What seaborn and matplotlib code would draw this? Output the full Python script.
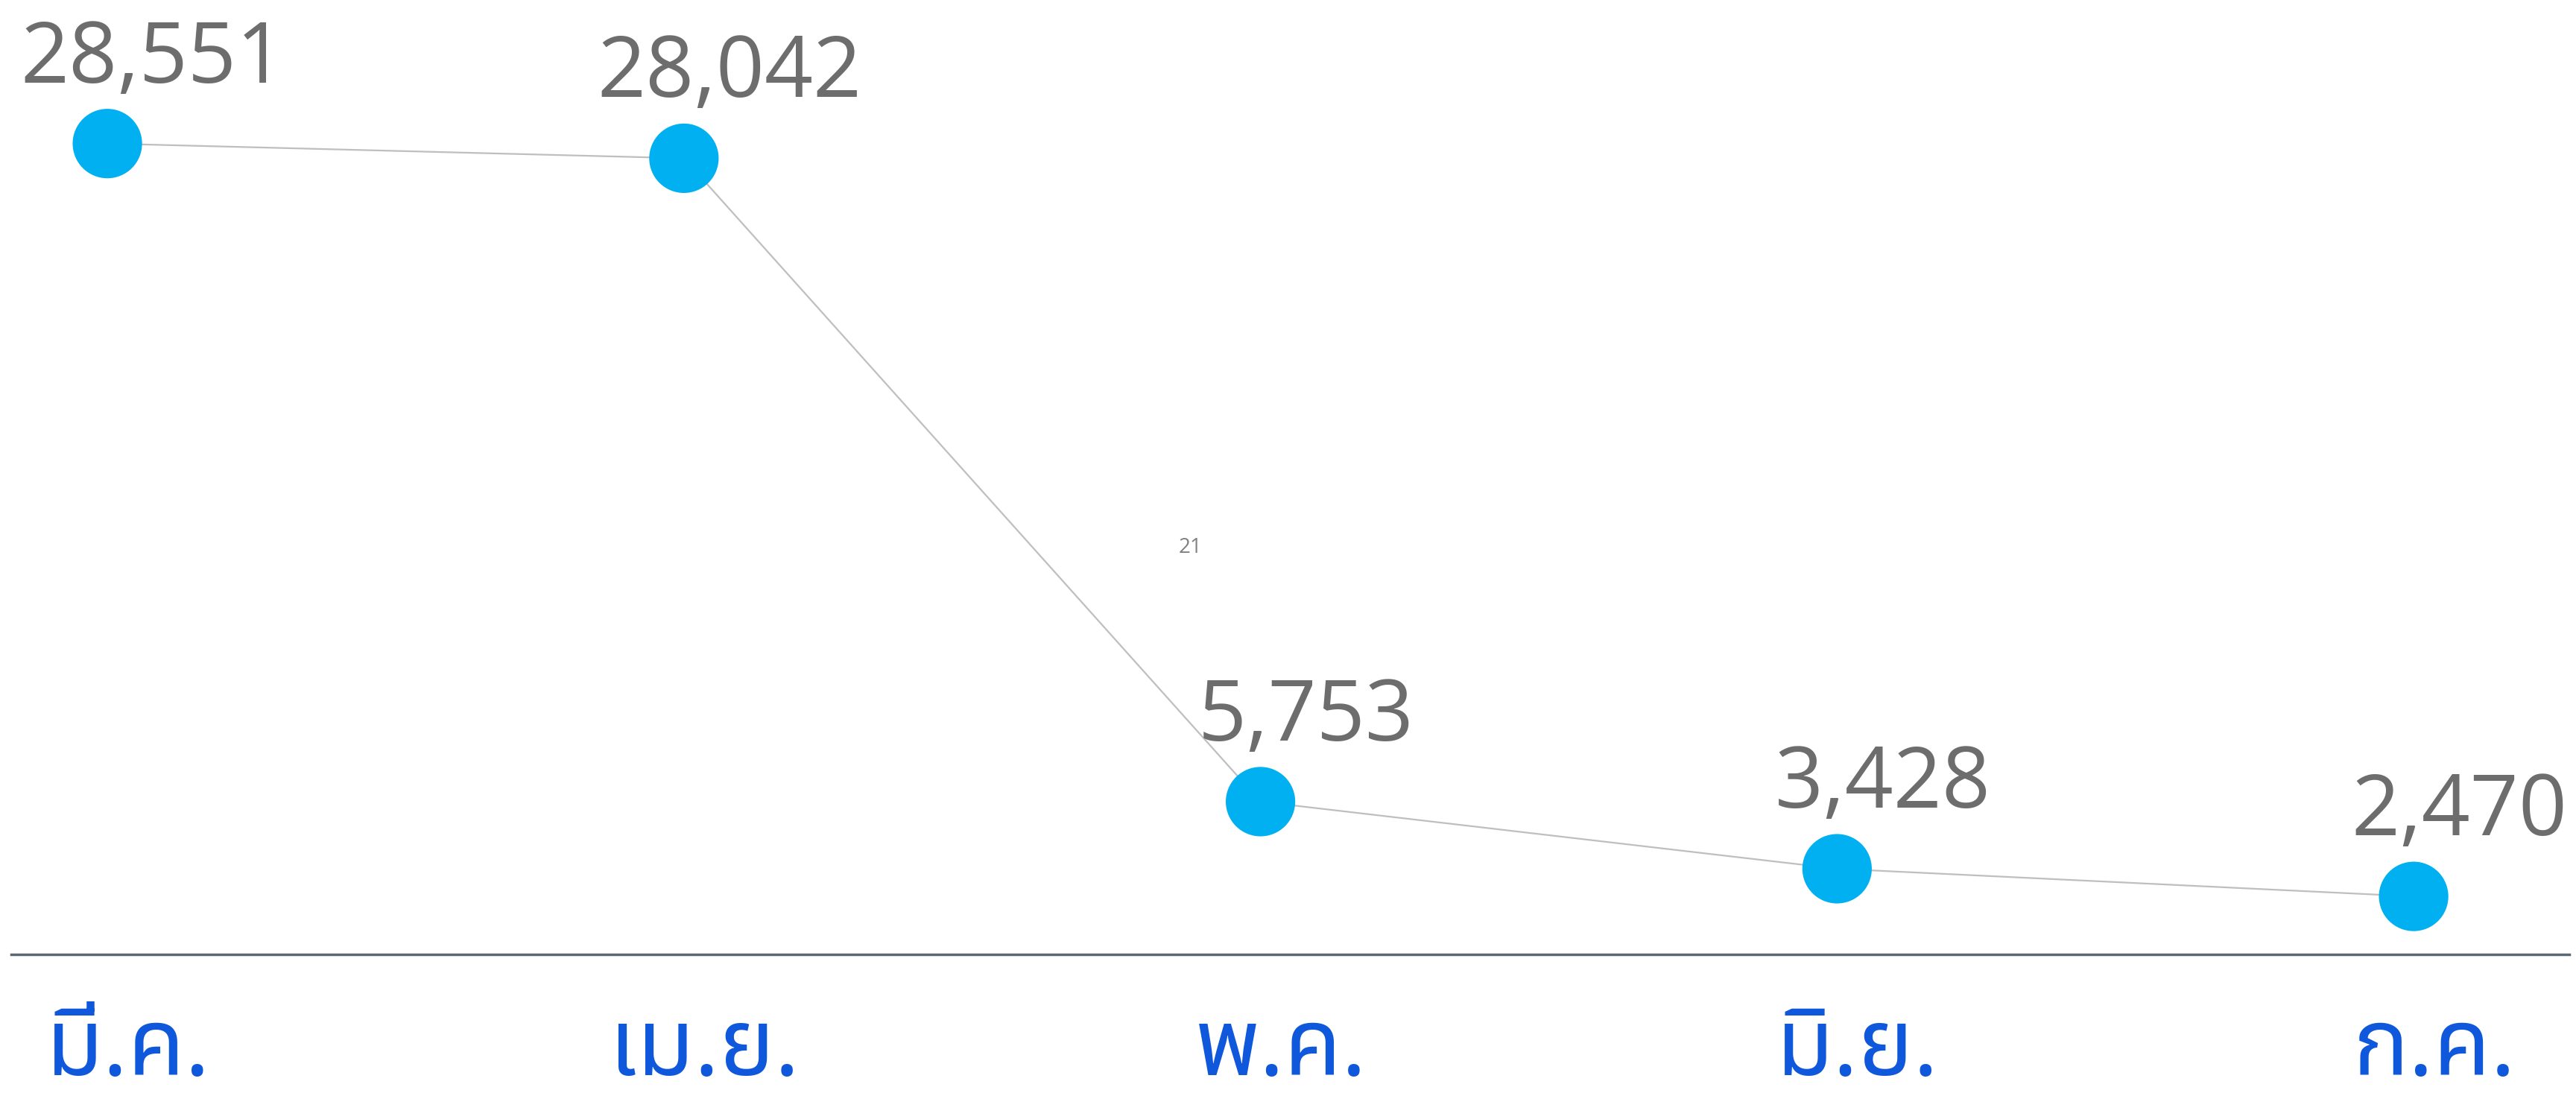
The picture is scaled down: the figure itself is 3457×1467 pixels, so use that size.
import matplotlib
matplotlib.use("Agg")
import matplotlib.pyplot as plt
import matplotlib.transforms as mtransforms
import seaborn as sns
import pandas as pd

# values
months = ["มี.ค.", "เม.ย.", "พ.ค.", "มิ.ย.", "ก.ค."]
cases = [28551, 28042, 5753, 3428, 2470]
page_note = "21"

sns.set_theme(style="white")
plt.rcParams["font.family"] = ["Noto Sans Thai", "Tahoma", "Open Sans", "DejaVu Sans"]

df = pd.DataFrame({"pos": range(len(months)), "month": months, "cases": cases})

fig = plt.figure(figsize=(34.57, 14.67), dpi=100)
ax = fig.add_axes([0.0043, 0.1268, 0.9931, 0.7825])

sns.lineplot(data=df, x="pos", y="cases", color="#BFBFBF", linewidth=1.6, ax=ax, zorder=2)
sns.scatterplot(data=df, x="pos", y="cases", color="#00B0F0", s=4500, edgecolor="none",
                ax=ax, zorder=3, legend=False)

for _, row in df.iterrows():
    ax.annotate(f"{row['cases']:,}", (row["pos"], row["cases"]), xytext=(44, 59),
                textcoords="offset points", ha="center", va="baseline",
                fontsize=82, color="#6D6D6D", family=["Open Sans", "DejaVu Sans"])

ax.set_xlim(-0.167, 4.27)
ax.set_ylim(460, 30090)
ax.set_xticks(df["pos"], df["month"])
ax.tick_params(axis="x", length=0, pad=48, labelsize=90, labelcolor="#0F57DB")
shift = mtransforms.ScaledTranslation(0.28, 0, fig.dpi_scale_trans)
for lbl in ax.get_xticklabels():
    lbl.set_transform(lbl.get_transform() + shift)
    lbl.set_fontweight("bold")
ax.set_yticks([])
ax.set_xlabel("")
ax.set_ylabel("")

for side in ["top", "left", "right"]:
    ax.spines[side].set_visible(False)
ax.spines["bottom"].set_color("#5A6872")
ax.spines["bottom"].set_linewidth(2.5)

fig.text(0.462, 0.499, page_note, fontsize=20, color="#808080", ha="center", va="center",
         family=["Open Sans", "DejaVu Sans"])

fig.savefig("out.png", dpi=100)
